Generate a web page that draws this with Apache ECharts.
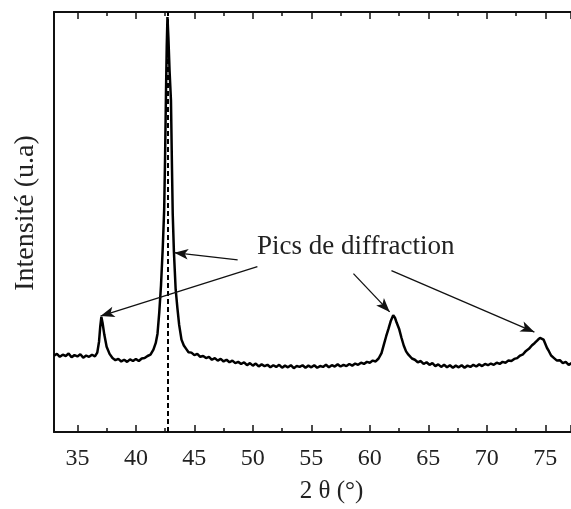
<!DOCTYPE html>
<html>
<head>
<meta charset="utf-8">
<script src="https://cdn.jsdelivr.net/npm/echarts@6/dist/echarts.min.js"></script>
<style>html,body{margin:0;padding:0;background:#fff;}#c{width:571px;height:509px;}</style>
</head>
<body>
<div id="c"></div>
<script>
// 2θ (degrees)
const theta = [
33.00,33.25,33.50,33.75,34.00,34.25,34.50,34.75,35.00,35.25,35.50,35.75,36.00,36.25,36.50,36.70,36.85,36.95,37.05,37.15,37.30,37.50,37.75,
38.00,38.25,38.50,38.75,39.00,39.25,39.50,39.75,40.00,40.25,40.50,40.75,41.00,41.25,41.50,41.70,41.85,42.00,42.15,42.30,42.42,42.50,42.57,42.64,42.70,
42.78,42.88,43.00,43.08,43.15,43.25,43.40,43.55,43.70,43.90,44.10,44.30,44.50,44.75,45.00,45.25,45.50,45.75,46.00,46.25,46.50,46.75,
47.00,47.25,47.50,47.75,48.00,48.25,48.50,48.75,49.00,49.25,49.50,49.75,50.00,50.25,50.50,50.75,51.00,51.25,51.50,51.75,52.00,52.25,52.50,52.75,
53.00,53.25,53.50,53.75,54.00,54.25,54.50,54.75,55.00,55.25,55.50,55.75,56.00,56.25,56.50,56.75,57.00,57.25,57.50,57.75,58.00,58.25,58.50,58.75,
59.00,59.25,59.50,59.75,60.00,60.25,60.50,60.75,61.00,61.20,61.40,61.60,61.80,62.00,62.15,62.30,62.50,62.70,62.90,63.10,63.30,63.60,63.85,
64.10,64.35,64.60,64.85,65.10,65.35,65.60,65.85,66.10,66.35,66.60,66.85,67.10,67.35,67.60,67.85,68.10,68.35,68.60,68.85,69.10,69.35,69.60,69.85,
70.10,70.35,70.60,70.85,71.10,71.35,71.60,71.85,72.10,72.35,72.60,72.85,73.10,73.35,73.60,73.85,74.10,74.35,74.55,74.70,74.85,75.00,75.15,75.30,
75.50,75.75,76.00,76.25,76.50,76.75,77.00,77.25,77.50,77.75,78.00,78.25,78.50,78.75,79.00,80.00
];
// Intensité (u.a)
const intensity = [
18.2,18.6,17.9,18.4,18.1,18.7,17.8,18.3,18.0,18.5,17.7,18.2,17.9,18.4,18.0,18.9,21.5,25.0,27.4,26.0,23.2,20.3,18.6,
17.6,17.1,17.4,16.8,17.2,16.7,17.3,16.9,17.4,16.9,17.5,17.6,18.1,18.4,19.6,21.2,23.4,28.5,35.0,44.0,53.0,66.0,80.0,92.0,98.8,
94.0,86.0,79.0,64.0,52.0,43.0,34.0,29.5,25.5,22.0,20.6,19.8,19.0,18.9,18.3,18.6,17.9,18.1,17.6,17.9,17.2,17.6,
17.0,17.4,16.8,17.2,16.6,17.0,16.4,16.7,16.2,16.6,15.9,16.4,15.8,16.3,15.6,16.1,15.7,16.0,15.4,15.9,15.5,16.0,15.3,15.8,
15.4,15.9,15.2,15.7,15.5,15.9,15.3,15.8,15.4,15.9,15.3,15.7,15.5,16.0,15.4,15.9,15.6,16.1,15.6,16.0,15.7,16.2,15.8,16.3,
16.0,16.5,16.2,16.7,16.5,17.0,16.8,17.5,18.8,20.8,22.8,24.6,26.5,27.8,27.2,26.0,24.6,22.5,20.6,19.2,18.4,17.5,17.2,
16.6,16.9,16.2,16.6,16.0,16.4,15.7,16.1,15.5,16.0,15.4,15.9,15.3,15.8,15.4,15.9,15.3,15.8,15.5,16.0,15.6,16.1,15.7,16.2,
15.9,16.3,16.0,16.5,16.2,16.7,16.5,17.0,16.9,17.4,17.6,18.2,18.5,19.3,19.8,20.6,21.2,21.9,22.4,22.7,22.0,21.0,20.0,19.3,
18.2,17.6,17.0,17.1,16.4,16.7,16.0,16.4,15.8,16.2,15.7,16.1,15.6,16.0,15.5,15.8
];
// x tick labels shown
const xTickLabels = [35,40,45,50,55,60,65,70,75];
// reference line (dashed) position
const refLine = 42.75;
// annotation arrows: [start, tip] in data units
const arrowStarts = [[48.70,41.0],[50.39,39.4],[58.60,37.7],[61.85,38.4]];
const arrowTips   = [[43.28,42.7],[36.98,27.6],[61.70,28.6],[74.07,23.8]];
const annotText = 'Pics de diffraction';
const xName = '2 \u03B8 (\u00B0)';
const yName = 'Intensit\u00E9 (u.a)';

const FONT = '"Liberation Serif", "Times New Roman", serif';
const data = theta.map((t, i) => [t, intensity[i]]);

const chart = echarts.init(document.getElementById('c'), null, {renderer: 'canvas'});
const axisCommon = {
  type: 'value', min: 33, max: 77.2, splitNumber: 9,
  axisLine: {show: true, onZero: false, lineStyle: {color: '#111', width: 2}},
  axisTick: {show: true, inside: true, length: 7, lineStyle: {color: '#111', width: 1.5}},
  minorTick: {show: true, splitNumber: 2, length: 4, lineStyle: {color: '#111', width: 1.5}},
  splitLine: {show: false}, minorSplitLine: {show: false}
};
chart.setOption({
  animation: false,
  backgroundColor: '#fff',
  grid: {left: 54, right: 0, top: 12, bottom: 73, containLabel: false},
  xAxis: [
    Object.assign({}, axisCommon, {
      position: 'bottom',
      name: xName, nameLocation: 'middle', nameGap: 47,
      nameTextStyle: {fontFamily: FONT, fontSize: 25, color: '#222', padding: [0, 0, 0, 38]},
      axisLabel: {show: true, margin: 15, fontFamily: FONT, fontSize: 24, color: '#222',
        showMinLabel: false, showMaxLabel: false,
        formatter: v => xTickLabels.indexOf(v) >= 0 ? String(v) : ''}
    }),
    Object.assign({}, axisCommon, {position: 'top', axisLabel: {show: false}})
  ],
  yAxis: {
    type: 'value', min: 0, max: 100,
    name: yName, nameLocation: 'middle', nameGap: 14,
    nameTextStyle: {fontFamily: FONT, fontSize: 28, color: '#222', padding: [0, 0, 0, 18]},
    axisLine: {show: true, lineStyle: {color: '#111', width: 2}},
    axisTick: {show: false}, axisLabel: {show: false}, splitLine: {show: false}
  },
  graphic: [{
    type: 'text', left: 257, top: 233,
    style: {text: annotText, fontFamily: FONT, fontSize: 27, fill: '#222'}
  }],
  series: [{
    type: 'line', data: data, symbol: 'none', smooth: false, clip: true,
    lineStyle: {color: '#000', width: 2.5},
    markLine: {
      silent: true, animation: false,
      data: [
        [{coord: [refLine, 0], symbol: 'none', lineStyle: {type: [5, 3], width: 2, color: '#000'}},
         {coord: [refLine, 100], symbol: 'none'}]
      ].concat(arrowStarts.map((s, i) => [
        {coord: s, symbol: 'none', lineStyle: {type: 'solid', width: 1.3, color: '#111'}},
        {coord: arrowTips[i], symbol: 'arrow', symbolSize: [8, 14]}
      ])),
      label: {show: false}
    }
  }, {
    type: 'line', xAxisIndex: 1, data: [], silent: true
  }]
});
</script>
</body>
</html>
